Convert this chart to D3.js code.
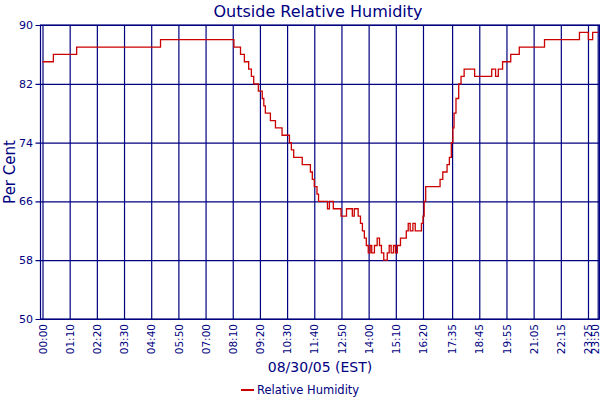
<!DOCTYPE html>
<html>
<head>
<meta charset="utf-8">
<script src="https://cdn.jsdelivr.net/npm/d3@7"></script>
<style>
  body { margin: 0; background: #fff; }
  text { font-family: "DejaVu Sans", sans-serif; fill: #000080; }
</style>
</head>
<body>
<div id="chart"></div>
<script>
// readings: time of change (HH:MM) and relative humidity from then on
var times = ["00:00","00:28","01:28","05:04","08:13","08:30","08:40","08:51","08:58","09:04",
  "09:16","09:26","09:30","09:34","09:47","10:00","10:17","10:36","10:41","10:47",
  "11:09","11:30","11:35","11:40","11:47","11:51","12:14","12:19","12:29","12:49",
  "13:03","13:18","13:23","13:33","13:39","13:44","13:49","13:54","13:59","14:04",
  "14:08","14:15","14:22","14:28","14:33","14:39","14:48","14:53","14:58","15:04",
  "15:09","15:14","15:22","15:37","15:42","15:47","15:54","16:00","16:16","16:20",
  "16:23","16:27","17:04","17:11","17:22","17:28","17:33","17:37","17:40","17:45",
  "17:52","17:58","18:06","18:33","19:17","19:27","19:34","19:45","20:06","20:28",
  "21:33","23:03","23:26","23:37","23:51"];
var humidity = [85,86,87,88,87,86,85,84,83,82,
  81,80,79,78,77,76,75,74,73,72,
  71,70,69,68,67,66,65,66,65,64,
  65,64,65,64,63,62,61,60,59,60,
  59,60,61,60,59,58,59,60,59,60,
  59,60,61,62,63,62,63,62,63,64,
  66,68,69,70,71,72,74,76,78,80,
  82,83,84,83,84,83,84,85,86,87,
  88,89,88,89,89];

var xTicks = ["00:00","01:10","02:20","03:30","04:40","05:50","07:00","08:10","09:20","10:30",
  "11:40","12:50","14:00","15:10","16:20","17:35","18:45","19:55","21:05","22:15","23:25","23:50"];
var yTicks = [50, 58, 66, 74, 82, 90];

var chartTitle = "Outside Relative Humidity";
var xTitle = "08/30/05 (EST)";
var yTitle = "Per Cent";
var seriesName = "Relative Humidity";

var width = 600, height = 400;
var margin = { top: 25, right: 2.3, bottom: 81, left: 42.5 };
var parseTime = d3.timeParse("%H:%M");

var svg = d3.select("#chart").append("svg")
    .attr("width", width)
    .attr("height", height);

var x = d3.scaleTime()
    .domain([parseTime("00:00"), parseTime("23:50")])
    .range([margin.left, width - margin.right]);

var y = d3.scaleLinear()
    .domain([50, 90])
    .range([height - margin.bottom, margin.top]);

var navy = "#000080";

// horizontal grid, sticking out a little to the left like ticks
svg.append("g")
    .attr("transform", "translate(" + (width - 0.5) + ",0)")
    .call(d3.axisLeft(y).tickValues(yTicks).tickSize(width - 36).tickPadding(3))
    .call(function (g) {
        g.select(".domain").remove();
        g.selectAll(".tick line").attr("stroke", navy).attr("stroke-width", 1.2);
        g.selectAll(".tick text").attr("x", -(width - 33.5)).attr("fill", navy)
            .style("font-size", "11px");
    });

// vertical grid + rotated time labels
svg.append("g")
    .attr("transform", "translate(0," + (height - margin.bottom) + ")")
    .call(d3.axisBottom(x).tickValues(xTicks.map(parseTime))
        .tickSize(-(height - margin.bottom - margin.top))
        .tickFormat(d3.timeFormat("%H:%M")))
    .call(function (g) {
        g.select(".domain").remove();
        g.selectAll(".tick line").attr("stroke", navy).attr("stroke-width", 1.2);
        g.selectAll(".tick text")
            .attr("fill", navy)
            .style("font-size", "10.5px")
            .attr("text-anchor", "end")
            .attr("transform", "rotate(-90)")
            .attr("x", -5)
            .attr("y", function (d, i) { return i === xTicks.length - 1 ? -2.5 : 0; })
            .attr("dy", "0.35em");
    });

// plot frame
svg.append("rect")
    .attr("x", 40.5)
    .attr("y", y(90))
    .attr("width", width - 41)
    .attr("height", y(50) - y(90))
    .attr("fill", "none")
    .attr("stroke", navy)
    .attr("stroke-width", 1.2);

// humidity trace
var line = d3.line()
    .curve(d3.curveStepAfter)
    .x(function (d, i) { return x(parseTime(times[i])); })
    .y(function (d) { return y(d); });

svg.append("path")
    .datum(humidity)
    .attr("d", line)
    .attr("fill", "none")
    .attr("stroke", "#cc0000")
    .attr("stroke-width", 1.3);

// titles
svg.append("text")
    .attr("x", 318)
    .attr("y", 17)
    .attr("text-anchor", "middle")
    .style("font-size", "16px")
    .text(chartTitle);

svg.append("text")
    .attr("x", 320)
    .attr("y", 372)
    .attr("text-anchor", "middle")
    .style("font-size", "14px")
    .text(xTitle);

svg.append("text")
    .attr("transform", "translate(15,172) rotate(-90)")
    .attr("text-anchor", "middle")
    .style("font-size", "15px")
    .text(yTitle);

// legend
svg.append("line")
    .attr("x1", 241).attr("x2", 254)
    .attr("y1", 390).attr("y2", 390)
    .attr("stroke", "#cc0000")
    .attr("stroke-width", 2);

svg.append("text")
    .attr("x", 257)
    .attr("y", 394)
    .style("font-size", "11.5px")
    .text(seriesName);
</script>
</body>
</html>
